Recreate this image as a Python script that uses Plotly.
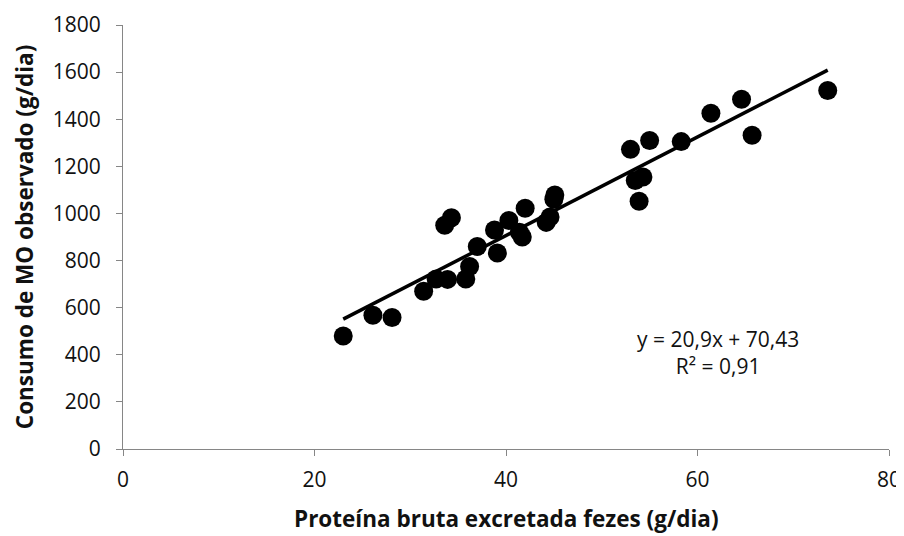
import plotly.graph_objects as go

# Data
x_vals = [23.0, 26.1, 28.1, 31.4, 32.7, 33.9, 33.6, 34.3, 35.8, 36.2, 37.0, 38.8, 39.1,
          40.3, 41.4, 41.7, 42.0, 44.2, 44.6, 45.0, 45.1, 53.0, 53.5, 54.3, 53.9, 55.0,
          58.3, 61.4, 64.6, 65.7, 73.6]
y_vals = [480, 568, 558, 670, 722, 720, 950, 982, 722, 775, 860, 930, 832,
          970, 920, 900, 1022, 962, 985, 1060, 1078, 1272, 1140, 1155, 1052, 1310,
          1305, 1425, 1485, 1332, 1522]

slope = 20.9
intercept = 70.43
x_tick_vals = [0, 20, 40, 60, 80]
y_tick_vals = [0, 200, 400, 600, 800, 1000, 1200, 1400, 1600, 1800]
x_title = "Proteína bruta excretada fezes (g/dia)"
y_title = "Consumo de MO observado (g/dia)"
eq_text = "y = 20,9x + 70,43<br>R² = 0,91"

x_line = [min(x_vals), max(x_vals)]
y_line = [slope * v + intercept for v in x_line]

FONT = "Open Sans"
TXT = "#111111"

fig = go.Figure()
fig.add_trace(go.Scatter(x=x_line, y=y_line, mode="lines",
                         line=dict(color="black", width=3.5), showlegend=False,
                         hoverinfo="skip"))
fig.add_trace(go.Scatter(x=x_vals, y=y_vals, mode="markers",
                         marker=dict(color="black", size=19), showlegend=False))

axis_common = dict(showgrid=False, zeroline=False, showline=True, linecolor="#868686",
                   linewidth=1, ticks="outside", ticklen=6, tickcolor="#868686",
                   automargin=False,
                   tickfont=dict(family=FONT, size=21, color=TXT))

fig.update_xaxes(range=[0, 80], tickvals=x_tick_vals, ticklabelstandoff=6, **axis_common)
fig.update_yaxes(range=[0, 1800], tickvals=y_tick_vals, ticklabelstandoff=11, **axis_common)

fig.add_annotation(x=0.5, y=-0.163, xref="paper", yref="paper", text=x_title,
                   showarrow=False, yanchor="middle", xanchor="center",
                   font=dict(family=FONT, size=22.5, color=TXT, weight="bold"))
fig.add_annotation(x=-0.129, y=0.5, xref="paper", yref="paper", text=y_title,
                   showarrow=False, textangle=-90, yanchor="middle", xanchor="center",
                   font=dict(family=FONT, size=22.5, color=TXT, weight="bold"))

fig.add_annotation(x=62.1, y=410, xref="x", yref="y", text=eq_text, showarrow=False,
                   font=dict(family=FONT, size=21, color=TXT), align="center")

# The page body adds an 8 px offset, so the figure is 8 px smaller and margins shifted
fig.update_layout(width=896, height=528, plot_bgcolor="white", paper_bgcolor="white",
                  margin=dict(l=115, r=15, t=17, b=87))

fig.write_html("out.html")
